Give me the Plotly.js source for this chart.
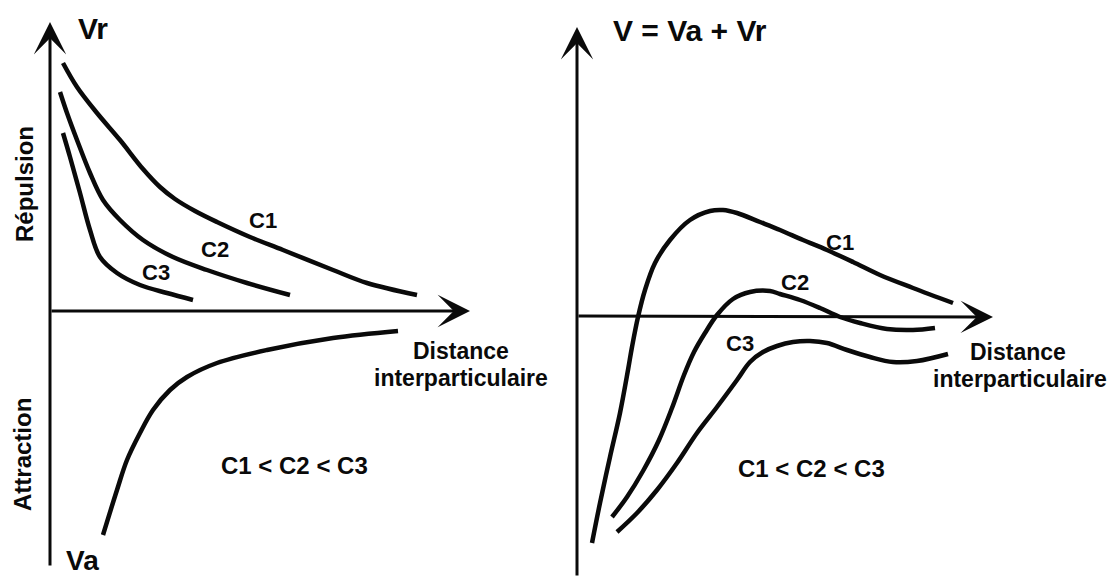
<!DOCTYPE html>
<html>
<head>
<meta charset="utf-8">
<script src="https://cdn.plot.ly/plotly-3.0.1.min.js"></script>
<style>
  html, body { margin: 0; padding: 0; background: white; }
  #chart { width: 1112px; height: 577px; }
</style>
</head>
<body>
<div id="chart"></div>
<script>
// Schematic DLVO curves — arbitrary units (distance, potential)

// ── Left panel: Vr (repulsion) for C1, C2, C3 and Va (attraction) ──
const vrC1X = [1.3, 2.7, 4.7, 7.0, 9.3, 11.0, 12.5, 14.5, 16.7, 20.0, 23.3, 28.3, 31.7, 36.7];
const vrC1Y = [24.8, 22.4, 19.8, 17.1, 14.2, 12.4, 11.2, 10.0, 8.9, 7.4, 6.1, 4.1, 2.8, 1.6];
const vrC2X = [1.0, 1.7, 2.7, 4.0, 5.3, 7.0, 9.3, 12.3, 15.7, 19.7, 24.0];
const vrC2Y = [21.9, 19.8, 17.1, 13.8, 11.1, 9.1, 7.1, 5.4, 4.1, 2.8, 1.6];
const vrC3X = [1.3, 2.0, 3.0, 4.0, 5.0, 6.7, 9.0, 11.7, 14.3];
const vrC3Y = [17.8, 15.4, 11.8, 8.1, 5.4, 3.8, 2.6, 1.8, 1.1];
const vaX = [5.3, 6.7, 7.7, 9.0, 10.3, 12.0, 13.7, 16.7, 21.7, 28.3, 34.8];
const vaY = [-22.4, -17.9, -14.9, -12.2, -9.9, -7.9, -6.6, -5.2, -3.9, -2.7, -2.0];

// ── Right panel: V = Va + Vr for C1, C2, C3 ──
const vC1X = [1.5, 2.3, 3.3, 4.3, 5.1, 5.5, 6.1, 6.8, 7.8, 9.3, 11.3, 13.3, 14.6, 16.0, 18.3, 20.3, 22.6, 25.0, 27.6, 30.3, 33.6, 37.6];
const vC1Y = [-22.7, -18.7, -14.1, -9.7, -5.4, -3.1, -0.1, 2.6, 5.3, 7.6, 9.6, 10.5, 10.6, 10.3, 9.4, 8.6, 7.6, 6.6, 5.4, 4.1, 2.8, 1.3];
const vC2X = [3.5, 5.0, 6.6, 8.2, 9.5, 10.7, 11.7, 12.8, 14.0, 15.6, 17.3, 19.3, 20.3, 22.3, 24.3, 26.3, 28.3, 31.0, 33.6, 35.8];
const vC2Y = [-20.1, -18.1, -15.5, -12.4, -9.2, -5.9, -3.6, -1.7, 0.1, 1.7, 2.4, 2.5, 2.2, 1.6, 0.8, -0.1, -0.7, -1.3, -1.4, -1.2];
const vC3X = [4.0, 6.0, 8.0, 10.0, 12.0, 14.0, 16.0, 17.3, 18.6, 20.0, 21.6, 23.3, 25.0, 27.0, 29.3, 31.6, 34.0, 37.1];
const vC3Y = [-21.6, -19.7, -17.4, -14.7, -11.7, -9.1, -6.4, -4.6, -3.6, -3.0, -2.6, -2.5, -2.7, -3.4, -4.1, -4.6, -4.5, -3.8];

const curveLabels = ['C1', 'C2', 'C3'];
const leftLabelX = [21.3, 16.5, 10.6];
const leftLabelY = [9.1, 6.2, 3.9];
const rightLabelX = [26.3, 21.8, 16.3];
const rightLabelY = [7.4, 3.4, -2.7];

const INK = '#0a0a0a';
const FONT = { family: '"Liberation Sans", Arial, Helvetica, sans-serif', color: INK, size: 22, weight: 700 };

const line = (x, y, xa, ya) => ({
    x, y, xaxis: xa, yaxis: ya, mode: 'lines',
    line: { color: INK, width: 4.5, shape: 'spline', smoothing: 1 },
    hoverinfo: 'skip', showlegend: false,
});

const traces = [
    line(vrC1X, vrC1Y, 'x', 'y'),
    line(vrC2X, vrC2Y, 'x', 'y'),
    line(vrC3X, vrC3Y, 'x', 'y'),
    line(vaX, vaY, 'x', 'y'),
    line(vC1X, vC1Y, 'x2', 'y2'),
    line(vC2X, vC2Y, 'x2', 'y2'),
    line(vC3X, vC3Y, 'x2', 'y2'),
];

const txt = (text, x, y, xr, yr, extra) => Object.assign({
    text, x, y, xref: xr, yref: yr, showarrow: false,
    xanchor: 'center', yanchor: 'middle', font: { ...FONT },
}, extra || {});

const arrow = (x, y, ax, ay, xr, yr) => ({
    x, y, ax, ay, xref: xr, yref: yr, axref: xr, ayref: yr,
    showarrow: true, arrowhead: 3, arrowsize: 1.8, arrowwidth: 3,
    arrowcolor: INK, standoff: 0, startstandoff: 0, text: '',
});

const annotations = [
    // axes
    arrow(0, 28.9, 0, -25.6, 'x', 'y'),
    arrow(42, 0, 0, 0, 'x', 'y'),
    arrow(0, 28.9, 0, -26.1, 'x2', 'y2'),
    arrow(41.6, -0.1, 0, 0, 'x2', 'y2'),
    // left panel text
    txt('Vr', 4.3, 28.3, 'x', 'y', { font: { ...FONT, size: 30 } }),
    txt('Va', 3.2, -24.9, 'x', 'y', { font: { ...FONT, size: 28 } }),
    txt('Répulsion', -2.6, 12.7, 'x', 'y', { textangle: -90, font: { ...FONT, size: 24 } }),
    txt('Attraction', -2.8, -14.4, 'x', 'y', { textangle: -90, font: { ...FONT, size: 24 } }),
    txt('Distance', 41.1, -4.0, 'x', 'y', { font: { ...FONT, size: 23 } }),
    txt('interparticulaire', 41.1, -6.7, 'x', 'y', { font: { ...FONT, size: 23 } }),
    txt('C1 &lt; C2 &lt; C3', 24.4, -15.4, 'x', 'y', { font: { ...FONT, size: 24 } }),
    // right panel text
    txt('V = Va + Vr', 11.3, 28.6, 'x2', 'y2', { font: { ...FONT, size: 30 } }),
    txt('Distance', 44.1, -3.6, 'x2', 'y2', { font: { ...FONT, size: 23 } }),
    txt('interparticulaire', 44.3, -6.3, 'x2', 'y2', { font: { ...FONT, size: 23 } }),
    txt('C1 &lt; C2 &lt; C3', 23.4, -15.2, 'x2', 'y2', { font: { ...FONT, size: 24 } }),
];
curveLabels.forEach((c, i) => {
    annotations.push(txt(c, leftLabelX[i], leftLabelY[i], 'x', 'y'));
    annotations.push(txt(c, rightLabelX[i], rightLabelY[i], 'x2', 'y2'));
});

const hidden = { visible: false, showgrid: false, zeroline: false, fixedrange: true };

const layout = {
    width: 1112, height: 577,
    paper_bgcolor: 'white', plot_bgcolor: 'white',
    margin: { l: 0, r: 0, t: 0, b: 0 },
    font: FONT,
    showlegend: false,
    xaxis: { ...hidden, domain: [0, 0.5], range: [-5, 50.6] },
    yaxis: { ...hidden, domain: [0, 1], range: [-26.6, 31.1] },
    xaxis2: { ...hidden, domain: [0.5, 1], range: [-2.1, 53.5], anchor: 'y2' },
    yaxis2: { ...hidden, domain: [0, 1], range: [-26.1, 31.6], anchor: 'x2' },
    annotations,
};

Plotly.newPlot('chart', traces, layout, { displayModeBar: false, staticPlot: true });
</script>
</body>
</html>
